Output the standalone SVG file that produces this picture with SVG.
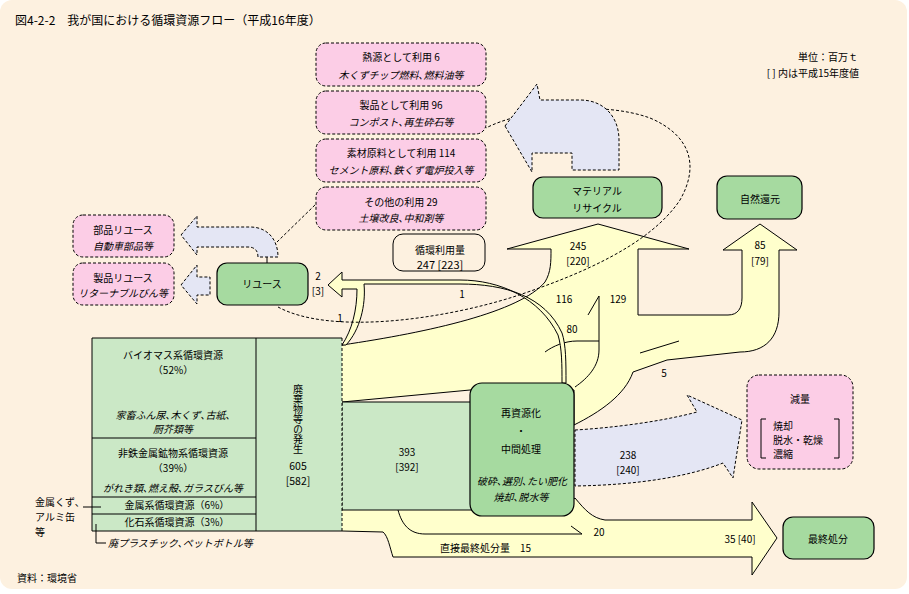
<svg xmlns="http://www.w3.org/2000/svg" width="909" height="594" viewBox="0 0 909 594">
<defs><style>
text{font-family:"Noto Sans CJK JP","Noto Sans CJK SC",sans-serif;font-size:10px;fill:#000}
.c{text-anchor:middle}
.e{text-anchor:end}
.i{font-style:italic}
.lb{font-size:11px}
.pink{fill:#FCCDE6;stroke:#000;stroke-width:1;stroke-dasharray:3 2}
.green{fill:#A6DAA0;stroke:#000;stroke-width:1.2}
.tf{fill:#CBE8C6}
.yf{fill:#FFFFCC;stroke:none}
.yel{fill:#FFFFCC;stroke:#000;stroke-width:1}
.blue{fill:#E4E6F4;stroke:#000;stroke-width:1;stroke-dasharray:3 2}
.ln{fill:none;stroke:#000;stroke-width:1}
.dl{fill:none;stroke:#000;stroke-width:1;stroke-dasharray:3 2}
</style></defs>
<rect width="909" height="594" fill="#fff"/>
<rect x="0" y="0" width="907" height="589" rx="12" fill="#FDF1E0"/>
<text x="15" y="25" style="font-size:12px">図4-2-2　我が国における循環資源フロー（平成16年度）</text>
<text x="858" y="61" class="e">単位：百万ｔ</text>
<text x="859" y="77" class="e">[ ] 内は平成15年度値</text>

<g id="connectors">
  <!-- upper yellow flows -->
  <path class="yf" d="M342,345 C430,332 520,312 545,282 C551,272 551,262 551,249 L507,249 L598,224 L689,249 L638,249 L638,315 L728,315 C738,315 742,308 742,298 L742,250 L723,250 L760,224 L797,250 L779,250 L779,312 C779,338 765,352 740,352 L667,360 L633,372 C625,395 600,412 574,425 L574,390 L470,390 L342,402 Z"/>
  <path class="ln" d="M342,345 C430,332 520,312 545,282 C551,272 551,262 551,249 L507,249 L598,224 L689,249 L638,249 L638,315 L728,315 C738,315 742,308 742,298 L742,250 L723,250 L760,224 L797,250 L779,250 L779,312 C779,338 765,352 740,352 L667,360 L633,372 C625,395 600,412 574,425 L574,390 L470,390 L342,402"/>
  <path class="ln" d="M575,387 C588,378 599,366 599,350 L599,296 L588,315"/>
  <path class="ln" d="M599,341 L577,341 C565,341 553,346 545,352"/>
  <path class="ln" d="M640,353 L679,341"/>
  <!-- bottom yellow arrow -->
  <path class="yf" d="M342,510 L560,510 L575,498 C585,510 592,518 605,520 L752,520 L752,502 L777,538 L752,575 L752,557 L393,557 C390,548 388,536 383,532 L342,531 Z"/>
  <path class="ln" d="M560,510 L575,498 C585,510 592,518 605,520 L752,520 L752,502 L777,538 L752,575 L752,557 L393,557 C390,548 388,536 383,532 L342,531"/>
  <path class="ln" d="M398,510 C402,525 410,534 425,534 L582,534 L571,526"/>
  <!-- reuse arrow -->
  <path class="yel" d="M328,285 L342,272 L342,280 L460,280 C500,280 540,298 558,335 C562,348 562,365 562,383 L566,383 C566,362 566,345 562,333 C545,296 505,284 460,284 L364,284 C366,305 360,330 346,345 L342,345 C352,330 357,310 357,289 L342,289 L342,297 Z"/>
  <!-- dashed enclosure -->
  <path class="dl" d="M278,307 C330,335 440,320 513,297 C580,275 650,245 680,200 C700,165 690,135 650,118 C600,100 520,110 486,128"/>
  <path class="dl" d="M277,242 L316,204"/>
  <!-- blue arrows -->
  <path class="blue" d="M505,126 L537,84 L540,100 L580,100 C605,100 619,118 619,140 L619,170 L572,170 L572,153 L532,153 L532,172 Z"/>
  <path class="blue" d="M181,235 L197,216 L197,227 L250,227 C268,227 278,240 278,257 L258,257 C258,250 254,247 248,247 L197,247 L197,255 Z"/>
  <path class="ln" d="M267,257 L267,263"/>
  <path class="blue" d="M181,285 L197,265 L197,277 L210,277 L210,295 L197,295 L197,304 Z"/>
  <path class="blue" d="M575,430 C610,428 660,422 697,412 L687,395 L742,420 L733,478 L723,463 C690,476 640,485 575,486 Z"/>
  <!-- 393 band -->
  <rect class="tf" x="342" y="402" width="130" height="108"/>
  <path class="ln" d="M342,402 L472,402 M342,510 L472,510"/>
  <path class="dl" d="M342,402 L342,510"/>
  <!-- labels -->
  <g class="lb">
    <text x="578" y="250" class="c">245</text>
    <text x="578" y="265" class="c">[220]</text>
    <text x="564" y="303" class="c">116</text>
    <text x="618" y="303" class="c">129</text>
    <text x="572" y="333" class="c">80</text>
    <text x="760" y="249" class="c">85</text>
    <text x="760" y="265" class="c">[79]</text>
    <text x="664" y="377" class="c">5</text>
    <text x="628" y="459" class="c">238</text>
    <text x="628" y="474" class="c">[240]</text>
    <text x="599" y="536" class="c">20</text>
    <text x="740" y="543" class="c">35 [40]</text>
    <text x="440" y="552">直接最終処分量　15</text>
    <text x="318" y="280" class="c">2</text>
    <text x="318" y="295" class="c">[3]</text>
    <text x="340" y="322" class="c">1</text>
    <text x="462" y="298" class="c">1</text>
    <text x="407" y="456" class="c">393</text>
    <text x="407" y="471" class="c">[392]</text>
  </g>
</g>

<g id="source-table">
  <rect class="tf" x="92" y="338" width="250" height="193"/>
  <path class="ln" d="M342,338 L92,338 L92,531 L342,531 M256,338 L256,531 M92,438 L256,438 M92,497 L256,497 M92,514 L256,514"/>
  <path class="dl" d="M342,338 L342,531"/>
  <text x="173" y="359" class="c">バイオマス系循環資源</text>
  <text x="173" y="374" class="c">（52%）</text>
  <text x="173" y="419" class="c i">家畜ふん尿､木くず､古紙､</text>
  <text x="173" y="433" class="c i">厨芥類等</text>
  <text x="173" y="457" class="c">非鉄金属鉱物系循環資源</text>
  <text x="173" y="472" class="c">（39%）</text>
  <text x="173" y="492" class="c i">がれき類､燃え殻､ガラスびん等</text>
  <text x="177" y="509" class="c">金属系循環資源（6%）</text>
  <text x="177" y="526" class="c">化石系循環資源（3%）</text>
  <text x="298" y="419" text-anchor="middle" style="writing-mode:vertical-rl">廃棄物等の発生</text>
  <text x="298" y="470" class="c" style="font-size:10.5px">605</text>
  <text x="298" y="485" class="c" style="font-size:10.5px">[582]</text>
  <path class="ln" d="M83,507 L101,507 M96,524 L96,543 L106,543"/>
  <text x="35" y="506">金属くず､</text>
  <text x="35" y="521">アルミ缶</text>
  <text x="35" y="536">等</text>
  <text x="108" y="547" class="i">廃プラスチック､ペットボトル等</text>
</g>

<g id="use-heat"><rect class="pink" x="316" y="43" width="170" height="43" rx="10"/>
  <text x="401" y="61" class="c">熱源として利用 6</text><text x="401" y="79" class="c i">木くずチップ燃料､燃料油等</text></g>
<g id="use-product"><rect class="pink" x="316" y="91" width="170" height="43" rx="10"/>
  <text x="401" y="109" class="c">製品として利用 96</text><text x="401" y="126" class="c i">コンポスト､再生砕石等</text></g>
<g id="use-material"><rect class="pink" x="316" y="139" width="170" height="43" rx="10"/>
  <text x="401" y="157" class="c">素材原料として利用 114</text><text x="401" y="174" class="c i">セメント原料､鉄くず電炉投入等</text></g>
<g id="use-other"><rect class="pink" x="316" y="187" width="170" height="43" rx="10"/>
  <text x="401" y="206" class="c">その他の利用 29</text><text x="401" y="222" class="c i">土壌改良､中和剤等</text></g>
<g id="cyclic-total"><rect x="393" y="234" width="92" height="37" rx="10" fill="none" stroke="#000"/>
  <text x="440" y="254" class="c">循環利用量</text><text x="440" y="269" class="c lb">247 [223]</text></g>
<g id="parts-reuse"><rect class="pink" x="73" y="215" width="101" height="42" rx="10"/>
  <text x="123" y="234" class="c">部品リユース</text><text x="123" y="250" class="c i">自動車部品等</text></g>
<g id="product-reuse"><rect class="pink" x="73" y="263" width="101" height="42" rx="10"/>
  <text x="123" y="282" class="c">製品リユース</text><text x="123" y="297" class="c i">リターナブルびん等</text></g>
<g id="reuse"><rect class="green" x="217" y="263" width="91" height="42" rx="10"/>
  <text x="262" y="288" class="c">リユース</text></g>
<g id="material-recycle"><rect class="green" x="533" y="177" width="129" height="41" rx="10"/>
  <text x="597" y="195" class="c">マテリアル</text><text x="597" y="212" class="c">リサイクル</text></g>
<g id="natural-return"><rect class="green" x="717" y="176" width="85" height="43" rx="10"/>
  <text x="760" y="203" class="c">自然還元</text></g>
<g id="intermediate"><rect class="green" x="470" y="383" width="104" height="133" rx="12"/>
  <text x="521" y="417" class="c">再資源化</text><text x="521" y="435" class="c">・</text><text x="521" y="453" class="c">中間処理</text>
  <text x="522" y="485" class="c i">破砕､選別､たい肥化</text><text x="521" y="501" class="c i">焼却､脱水等</text></g>
<g id="reduction"><rect class="pink" x="747" y="375" width="106" height="94" rx="12"/>
  <text x="800" y="403" class="c">減量</text>
  <path class="ln" d="M766,419 L761,419 L761,458 L766,458 M834,419 L839,419 L839,458 L834,458"/>
  <text x="773" y="430">焼却</text><text x="773" y="444">脱水・乾燥</text><text x="773" y="458">濃縮</text></g>
<g id="final-disposal"><rect class="green" x="783" y="517" width="91" height="42" rx="10"/>
  <text x="828" y="543" class="c">最終処分</text></g>
<text x="17" y="582">資料：環境省</text>
</svg>
